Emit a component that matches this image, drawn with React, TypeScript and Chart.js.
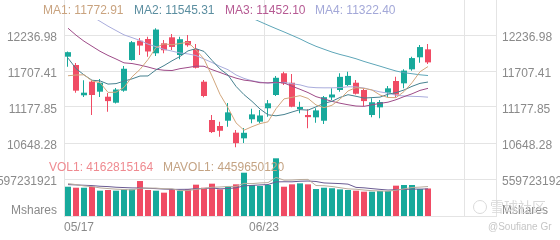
import React, { useEffect, useRef } from 'react';
import { Chart, registerables } from 'chart.js';

Chart.register(...registerables);

const dates = ['05/17','05/18','05/19','05/20','05/23','05/24','05/25','05/26','05/27','05/31','06/01','06/02','06/03','06/06','06/07','06/08','06/09','06/10','06/13','06/14','06/15','06/16','06/17','06/21','06/22','06/23','06/24','06/27','06/28','06/29','06/30','07/01','07/05','07/06','07/07','07/08','07/11','07/12','07/13','07/14','07/15','07/18','07/19','07/20','07/21','07/22'];

const opens = [11918,11796,11350,11550,11403,11329,11241,11418,11869,12153,12178,11968,12115,12203,11943,12149,12031,11550,10987,10898,10976,10800,10717,10997,10962,11159,11354,11674,11535,11144,11060,11026,10976,11318,11428,11501,11535,11428,11060,11173,11388,11560,11526,11732,11909,12026];
const highs = [11995,11825,11570,11575,11590,11384,11457,11781,12149,12193,12212,12335,12163,12252,12212,12237,12104,11575,11060,10962,11237,10840,10869,11153,11134,11281,11634,11697,11663,11256,11144,11159,11340,11453,11674,11697,11575,11453,11306,11281,11487,11624,11732,11918,12090,12104];
const lows = [11771,11388,11325,11060,11325,11109,11229,11403,11862,11943,11918,11928,11968,12016,11880,12065,11745,11320,10795,10741,10888,10585,10648,10938,10938,11035,11340,11501,11173,11085,10865,10947,10928,11281,11403,11487,11360,11193,11026,11012,11320,11320,11453,11712,11829,11810];
const closes = [11984.52,11418.15,11388.50,11354.62,11535.27,11264.45,11434.74,11740.65,12131.13,12081.39,11994.46,12316.90,12012.73,12061.37,12175.23,12086.27,11754.23,11340.02,10809.23,10828.35,11099.15,10646.10,10798.35,11069.30,11053.08,11232.19,11607.62,11524.55,11181.54,11177.89,11028.74,11127.85,11322.24,11361.85,11621.35,11635.31,11372.60,11264.73,11247.58,11251.19,11452.42,11360.05,11713.15,11897.65,12059.61,11834.11];

const volumes = [4430000000,4280000000,4280000000,4430000000,3830000000,3930000000,3830000000,4030000000,4030000000,5290000000,3930000000,3830000000,3530000000,4030000000,3830000000,4030000000,4740000000,4280000000,4890000000,4030000000,4430000000,4790000000,6550000000,4690000000,4540000000,4690000000,8730000000,4430000000,4790000000,4940000000,4790000000,4080000000,4280000000,4200000000,4030000000,3930000000,3830000000,3680000000,3680000000,3780000000,3780000000,4590000000,4690000000,4690000000,4080000000,4162815164];

const ma1 = [11637.50,11648.28,11651.79,11561.72,11536.21,11392.20,11395.52,11465.95,11621.25,11730.47,11876.47,12052.91,12107.32,12093.37,12112.14,12130.50,12017.97,11883.42,11633.00,11363.62,11166.20,10944.57,10836.24,10888.25,10933.20,10959.80,11152.11,11297.35,11319.80,11344.76,11304.07,11208.11,11167.65,11203.71,11292.41,11413.72,11462.67,11451.17,11428.31,11354.28,11317.70,11315.19,11404.88,11534.89,11696.58,11772.91];
const ma2 = [11897.56,11742.89,11649.97,11570.97,11562.17,11514.85,11521.90,11558.87,11591.48,11633.34,11634.34,11724.21,11786.63,11857.31,11921.31,12003.49,12035.44,11995.37,11863.18,11737.88,11648.35,11481.27,11359.83,11260.62,11148.41,11063.00,11048.34,11066.79,11104.02,11138.98,11131.94,11180.11,11232.50,11261.76,11318.58,11358.89,11335.39,11309.41,11316.01,11323.34,11365.71,11388.93,11428.02,11481.60,11525.43,11545.31];
const ma3 = [12336.66,12234.91,12145.60,12071.37,11997.89,11936.58,11883.87,11827.32,11817.15,11794.42,11765.95,11733.55,11718.30,11714.14,11741.74,11759.17,11778.67,11777.12,11727.33,11685.61,11641.34,11602.74,11573.23,11558.97,11534.86,11533.24,11541.89,11531.08,11483.60,11438.43,11390.14,11330.69,11296.17,11261.19,11233.50,11210.95,11191.87,11188.10,11210.02,11231.16,11248.82,11284.52,11330.26,11371.68,11422.01,11452.10];
const ma4 = [12772.15,12679.29,12595.94,12511.19,12438.66,12367.08,12302.52,12239.09,12198.42,12156.72,12102.55,12064.68,12025.95,12000.02,11972.36,11958.88,11934.39,11883.34,11832.49,11775.57,11726.75,11649.46,11598.81,11562.97,11543.96,11527.11,11535.23,11540.34,11519.56,11503.40,11471.54,11461.86,11459.65,11459.90,11462.77,11475.13,11473.06,11457.19,11427.74,11400.07,11382.00,11350.10,11340.12,11334.66,11330.81,11322.40];
const ma60 = [null,null,null,null,null,null,null,null,null,null,null,null,null,null,null,null,null,null,null,null,null,null,null,12485.10,12433.16,12381.12,12330.92,12282.29,12231.64,12180.24,12121.85,12070.58,12027.80,11985.54,11950.71,11921.10,11887.79,11848.14,11813.08,11778.39,11742.27,11707.39,11683.03,11667.34,11651.58,11640.64];

const mavol1 = [4900000000,4750000000,4550000000,4450000000,4250000000,4150000000,4060000000,4010000000,3930000000,4220000000,4220000000,4220000000,4120000000,4120000000,3830000000,3850000000,4030000000,4180000000,4350000000,4390000000,4470000000,4480000000,4940000000,4900000000,5000000000,5050000000,5840000000,5420000000,5440000000,5520000000,5540000000,4610000000,4580000000,4460000000,4280000000,4100000000,4050000000,3930000000,3830000000,3780000000,3750000000,3900000000,4100000000,4310000000,4370000000,4459650120];
const mavol2 = [4750000000,4700000000,4650000000,4600000000,4500000000,4450000000,4350000000,4300000000,4250000000,4240000000,4190000000,4140000000,4070000000,4030000000,4030000000,4040000000,4130000000,4150000000,4240000000,4110000000,4160000000,4260000000,4560000000,4630000000,4700000000,4760000000,5160000000,5180000000,5170000000,5260000000,5290000000,5220000000,5000000000,4950000000,4900000000,4820000000,4330000000,4260000000,4140000000,4030000000,3930000000,3980000000,4020000000,4070000000,4070000000,4100000000];

const priceTicks = [12236.98, 11707.41, 11177.85, 10648.28];
const volTicks = [5597231921, 1210000000];
const volTickLabels = ['5597231921', 'Mshares'];
const xTicks = [0, 25, 50];

const TEAL = '#17a99b';
const RED = '#f04b64';
const GRID = '#e4e4e4';
const LABEL = '#8a8a8a';
const FONT = { family: '"Liberation Sans", Arial, sans-serif', size: 12 };

const C_MA1 = '#d2a67c';
const C_MA2 = '#46808f';
const C_MA3 = '#9e4b88';
const C_MA4 = '#a9acdc';
const C_MA60 = '#5ea6b8';
const C_MAVOL1 = '#b9ab9c';
const C_MAVOL2 = '#6a5b92';

export default function App() {
  const ref = useRef<HTMLCanvasElement>(null);

  useEffect(() => {
    document.body.style.margin = '0';
    const canvas = ref.current;
    if (!canvas) return;
    const color = (ctx: any) => (closes[ctx.dataIndex] >= opens[ctx.dataIndex] ? TEAL : RED);
    const pts = (arr: (number | null)[]) => arr.map((v, i) => ({ x: i + 0.5, y: v }));
    const priceClip = { left: 0, top: -20, right: 0, bottom: 0 };
    const line = (label: string, data: any[], c: string, yAxisID: string) => ({
      type: 'line' as const,
      label,
      data,
      xAxisID: 'x',
      yAxisID,
      borderColor: c,
      borderWidth: 1,
      pointRadius: 0,
      tension: 0,
      fill: false,
      order: 0,
      clip: yAxisID === 'yP' ? priceClip : 0,
    });
    const fitY = (s: any) => {
      s.width = 64;
      s.paddingTop = 0;
      s.paddingBottom = 0;
    };
    const priceAxis = (position: 'left' | 'right', weight: number, showGrid: boolean) => ({
      type: 'linear' as const,
      position,
      stack: 'panes',
      stackWeight: 152,
      weight,
      min: 10515.89,
      max: 12751.84,
      afterBuildTicks: (s: any) => {
        s.ticks = priceTicks.map((v) => ({ value: v }));
      },
      afterFit: fitY,
      ticks: {
        callback: (v: any) => Number(v).toFixed(2),
        color: LABEL,
        font: FONT,
        padding: position === 'left' ? 7 : 6,
        labelOffset: 3,
        autoSkip: false,
      },
      grid: { display: showGrid, color: GRID, drawTicks: false },
      border: { color: GRID },
    });
    const volAxis = (position: 'left' | 'right', weight: number, showGrid: boolean) => ({
      type: 'linear' as const,
      position,
      stack: 'panes',
      stackWeight: 64,
      weight,
      min: 0,
      max: 9681700000,
      afterBuildTicks: (s: any) => {
        s.ticks = volTicks.map((v) => ({ value: v }));
      },
      afterFit: fitY,
      ticks: {
        callback: (v: any) => volTickLabels[volTicks.indexOf(Number(v))] ?? '',
        color: LABEL,
        font: FONT,
        padding: position === 'left' ? 7 : 6,
        labelOffset: 3,
        autoSkip: false,
      },
      grid: {
        display: showGrid,
        color: (ctx: any) => (ctx.tick && ctx.tick.value === volTicks[0] ? GRID : 'rgba(0,0,0,0)'),
        drawTicks: false,
      },
      border: { color: GRID },
    });

    const chart = new Chart(canvas, {
      type: 'bar',
      data: {
        datasets: [
          line('MA1', pts(ma1), C_MA1, 'yP'),
          line('MA2', pts(ma2), C_MA2, 'yP'),
          line('MA3', pts(ma3), C_MA3, 'yP'),
          line('MA4', pts(ma4), C_MA4, 'yP'),
          line('MA60', pts(ma60), C_MA60, 'yP'),
          line('MAVOL1', pts(mavol1), C_MAVOL1, 'yV'),
          line('MAVOL2', pts(mavol2), C_MAVOL2, 'yV'),
          {
            type: 'bar',
            label: 'body',
            data: opens.map((o, i) => ({ x: i + 0.5, y: [o, closes[i]] })),
            xAxisID: 'x',
            yAxisID: 'yP',
            backgroundColor: color,
            barThickness: 6,
            grouped: false,
            minBarLength: 1,
            inflateAmount: 0,
            borderWidth: 0,
            order: 1,
          },
          {
            type: 'bar',
            label: 'wick',
            data: lows.map((l, i) => ({ x: i + 0.5, y: [l, highs[i]] })),
            xAxisID: 'xw',
            yAxisID: 'yP',
            backgroundColor: color,
            barThickness: 1,
            grouped: false,
            inflateAmount: 0,
            borderWidth: 0,
            order: 2,
          },
          {
            type: 'bar',
            label: 'volume',
            data: volumes.map((v, i) => ({ x: i + 0.5, y: v })),
            xAxisID: 'x',
            yAxisID: 'yV',
            backgroundColor: color,
            barThickness: 6,
            grouped: false,
            inflateAmount: 0,
            borderWidth: 0,
            order: 1,
          },
        ] as any,
      },
      options: {
        animation: false,
        responsive: false,
        devicePixelRatio: 1,
        events: [],
        layout: { padding: 0 },
        plugins: { legend: { display: false }, tooltip: { enabled: false }, title: { display: false } },
        scales: {
          x: {
            type: 'linear',
            position: 'bottom',
            min: 0,
            max: 54,
            offset: false,
            afterBuildTicks: (s: any) => {
              s.ticks = xTicks.map((v) => ({ value: v }));
            },
            afterFit: (s: any) => {
              s.height = 24;
              s.paddingLeft = 0;
              s.paddingRight = 0;
            },
            ticks: {
              callback: (v: any) => dates[Number(v)] ?? '',
              align: 'inner',
              autoSkip: false,
              maxRotation: 0,
              minRotation: 0,
              padding: 4,
              color: LABEL,
              font: FONT,
            },
            grid: { color: GRID, drawTicks: false, offset: false },
            border: { color: GRID },
          },
          xw: { type: 'linear', display: false, min: 0.0625, max: 54.0625, offset: false, grid: { offset: false } },
          yP: priceAxis('left', 2, true),
          yV: volAxis('left', 1, true),
          yPR: priceAxis('right', 1, false),
          yVR: volAxis('right', 2, false),
        } as any,
      },
    });
    return () => chart.destroy();
  }, []);

  const legendStyle = (left: number, top: number, color: string): React.CSSProperties => ({
    position: 'absolute',
    left,
    top,
    color,
    fontSize: 12,
    lineHeight: '14px',
    whiteSpace: 'nowrap',
    fontFamily: '"Liberation Sans", Arial, sans-serif',
  });

  return (
    <div style={{ position: 'fixed', left: 0, top: 0, width: 560, height: 240, background: '#ffffff', overflow: 'hidden' }}>
      <canvas ref={ref} width={560} height={240} style={{ position: 'absolute', left: 0, top: 0, width: 560, height: 240 }} />
      <div style={legendStyle(43, 3, '#c9a37f')}>MA1: {ma1[ma1.length - 1].toFixed(2)}</div>
      <div style={legendStyle(134, 3, '#5b8ea0')}>MA2: {ma2[ma2.length - 1].toFixed(2)}</div>
      <div style={legendStyle(225, 3, '#b65a93')}>MA3: {ma3[ma3.length - 1].toFixed(2)}</div>
      <div style={legendStyle(315, 3, '#a3a8d8')}>MA4: {ma4[ma4.length - 1].toFixed(2)}</div>
      <div style={legendStyle(49, 160, '#ef8a90')}>VOL1: {volumes[volumes.length - 1]}</div>
      <div style={legendStyle(163, 160, '#c4a383')}>MAVOL1: {mavol1[mavol1.length - 1]}</div>
      <div style={{ position: 'absolute', left: 473, top: 200, width: 12, height: 12, border: '1.5px solid #dadada', borderRadius: '50%' }} />
      <div style={{ position: 'absolute', left: 490, top: 197, color: '#d8d8d8', fontSize: 14, lineHeight: '18px', fontFamily: '"Noto Sans CJK SC", sans-serif', whiteSpace: 'nowrap' }}>雪球社区</div>
      <div style={{ position: 'absolute', left: 488, top: 221, color: '#c6c6c6', fontSize: 10, lineHeight: '12px', fontFamily: '"Liberation Sans", Arial, sans-serif', whiteSpace: 'nowrap' }}>@Soufiane Gr</div>
    </div>
  );
}
